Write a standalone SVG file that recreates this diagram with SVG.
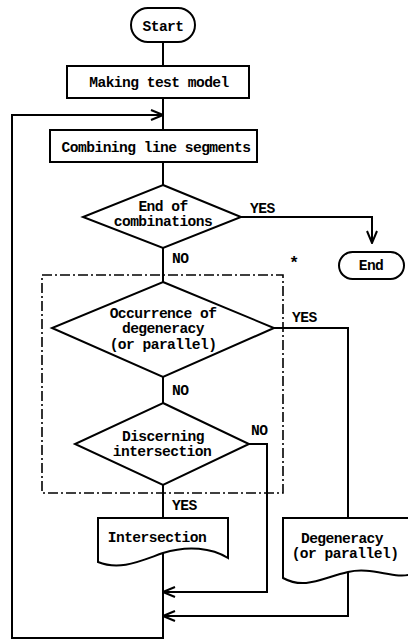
<svg xmlns="http://www.w3.org/2000/svg" width="408" height="640" viewBox="0 0 408 640">
<defs>
<style>
.s{fill:#fff;stroke:#000;stroke-width:2}
.c{fill:none;stroke:#000;stroke-width:2}
.t{font-family:"Liberation Mono",monospace;font-weight:bold;font-size:14.6px;letter-spacing:-0.55px;fill:#000}
.m{text-anchor:middle}
</style>
<marker id="a" markerWidth="14" markerHeight="12" refX="13" refY="6" orient="auto" markerUnits="userSpaceOnUse">
<path d="M1,1 L13,6 L1,11" fill="none" stroke="#000" stroke-width="2"/>
</marker>
</defs>
<rect width="408" height="640" fill="#fff"/>
<g id="connectors">
<path class="c" d="M163,42 V66 M163,98 V130 M163,162 V185 M163,248 V282 M163,377 V403 M163,485 V518"/>
<path class="c" d="M241,217 H372 V243" marker-end="url(#a)"/>
<path class="c" d="M274,328 H348 V518"/>
<path class="c" d="M249,444 H267 V592 H163" marker-end="url(#a)"/>
<path class="c" d="M348,572 V616 H163" marker-end="url(#a)"/>
<path class="c" d="M163,553 V638 H12 V115 H163" marker-end="url(#a)"/>
<rect x="42" y="275" width="241" height="218" fill="none" stroke="#000" stroke-width="1.6" stroke-dasharray="10 3 2 3"/>
<text class="t" x="250" y="213">YES</text>
<text class="t" x="172" y="263">NO</text>
<text class="t" x="289" y="268" style="font-size:17px">*</text>
<text class="t" x="292" y="322">YES</text>
<text class="t" x="172" y="395">NO</text>
<text class="t" x="251" y="435">NO</text>
<text class="t" x="172" y="510">YES</text>
</g>
<g id="start">
<rect class="s" x="131" y="8" width="64" height="34" rx="17"/>
<text class="t m" x="163" y="31">Start</text>
</g>
<g id="making">
<rect class="s" x="67" y="66" width="182" height="32"/>
<text class="t m" x="159" y="87">Making test model</text>
</g>
<g id="combining">
<rect class="s" x="50" y="130" width="207" height="32"/>
<text class="t m" x="156" y="152">Combining line segments</text>
</g>
<g id="endcomb">
<polygon class="s" points="163,185 241,217 163,248 83,217"/>
<text class="t m" x="163" y="211">End of</text>
<text class="t m" x="163" y="226">combinations</text>
</g>
<g id="end">
<rect class="s" x="339" y="252" width="65" height="27" rx="13.5"/>
<text class="t m" x="371" y="270">End</text>
</g>
<g id="occurrence">
<polygon class="s" points="163,282 274,328 163,377 52,328"/>
<text class="t m" x="163" y="318">Occurrence of</text>
<text class="t m" x="163" y="333">degeneracy</text>
<text class="t m" x="163" y="349">(or parallel)</text>
</g>
<g id="discerning">
<polygon class="s" points="163,403 249,444 163,485 75,444"/>
<text class="t m" x="163" y="441">Discerning</text>
<text class="t m" x="162" y="456">intersection</text>
</g>
<g id="intersection">
<path class="s" d="M98,518 H228 V558 C212,548 188,545 163,553 C140,561 120,571 98,562 Z"/>
<text class="t m" x="157" y="542">Intersection</text>
</g>
<g id="degeneracy">
<path class="s" d="M283,518 H412 V574 C395,580 372,566 348,572 C322,578 305,590 283,578 Z"/>
<text class="t m" x="342" y="543">Degeneracy</text>
<text class="t m" x="345" y="558">(or parallel)</text>
</g>
</svg>
